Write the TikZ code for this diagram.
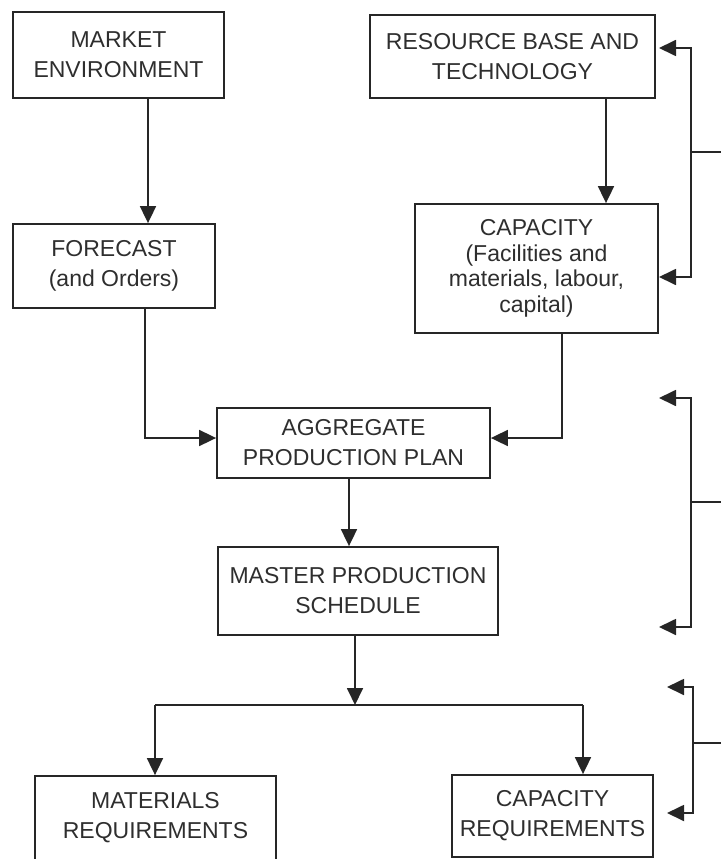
\documentclass[tikz,border=0pt]{standalone}
\usepackage{fontspec}
\setmainfont{Liberation Sans}
\usetikzlibrary{arrows.meta,calc}
\begin{document}
\begin{tikzpicture}[x=1pt,y=-1pt,
  line width=1.8pt,
  ink/.style={draw=black!85},
  box/.style={ink,rectangle,inner sep=0pt,align=center,text=black!82,
    font=\fontsize{23}{30}\selectfont},
  tight/.style={font=\fontsize{23}{25.5}\selectfont},
  tip/.tip={Triangle[length=17pt,width=16pt]},
  arr/.style={ink,-tip},
  darr/.style={ink,tip-tip}]
\useasboundingbox (0,0) rectangle (721,859);

% boxes
\node[box,minimum width=211,minimum height=86] (market) at (118.5,55)
  {MARKET\\ENVIRONMENT};
\node[box,minimum width=285,minimum height=83] (res) at (512.5,56.5)
  {RESOURCE BASE AND\\TECHNOLOGY};
\node[box,minimum width=202,minimum height=84] (forecast) at (114,266)
  {FORECAST\\(and Orders)};
\node[box,tight,minimum width=243,minimum height=129] (cap) at (536.5,268.5)
  {CAPACITY\\(Facilities and\\materials, labour,\\capital)};
\node[box,minimum width=273,minimum height=70] (agg) at (353.5,443)
  {AGGREGATE\\PRODUCTION PLAN};
\node[box,minimum width=280,minimum height=88] (mps) at (358,591)
  {MASTER PRODUCTION\\SCHEDULE};
\node[box,minimum width=241,minimum height=84] (mat) at (155.5,818)
  {MATERIALS\\REQUIREMENTS};
\node[box,minimum width=201,minimum height=82] (capreq) at (552.5,816)
  {CAPACITY\\REQUIREMENTS};

% main flow
\draw[arr] (market.south) ++(29.5,0) coordinate (m1) -- (m1 |- forecast.north);
\draw[arr] (res.south) ++(93.5,0) coordinate (r1) -- (r1 |- cap.north);
\draw[arr] (forecast.south) ++(31,0) coordinate (f1) |- ([yshift=5pt]agg.west);
\draw[arr] (cap.south) ++(25.5,0) coordinate (c1) |- ([yshift=5pt]agg.east);
\draw[arr] (agg.south) ++(-4.5,0) coordinate (a1) -- (a1 |- mps.north);

% split to the two requirement plans
\coordinate (busL) at (155,705);
\coordinate (busR) at (583,705);
\draw[arr] (mps.south) ++(-3,0) coordinate (p1) -- (p1 |- busL);
\draw[ink] (busL) -- (busR);
\draw[arr] (busL) -- (busL |- mat.north);
\draw[arr] (busR) -- (busR |- capreq.north);

% feedback brackets on the right
\coordinate (b1t) at (691,48);   \coordinate (b1b) at (691,277);
\coordinate (b1m) at (691,152);  \coordinate (b1o) at (721,152);
\coordinate (t1a) at (659,48);   \coordinate (t1b) at (659,277);
\draw[darr] (t1a) -- (b1t) -- (b1b) -- (t1b);
\draw[ink] (b1m) -- (b1o);

\coordinate (b2t) at (691,398);  \coordinate (b2b) at (691,627);
\coordinate (b2m) at (691,502);  \coordinate (b2o) at (721,502);
\coordinate (t2a) at (659,398);  \coordinate (t2b) at (659,627);
\draw[darr] (t2a) -- (b2t) -- (b2b) -- (t2b);
\draw[ink] (b2m) -- (b2o);

\coordinate (b3t) at (693,687);  \coordinate (b3b) at (693,813);
\coordinate (b3m) at (693,743);  \coordinate (b3o) at (721,743);
\coordinate (t3a) at (667,687);  \coordinate (t3b) at (667,813);
\draw[darr] (t3a) -- (b3t) -- (b3b) -- (t3b);
\draw[ink] (b3m) -- (b3o);
\end{tikzpicture}
\end{document}
